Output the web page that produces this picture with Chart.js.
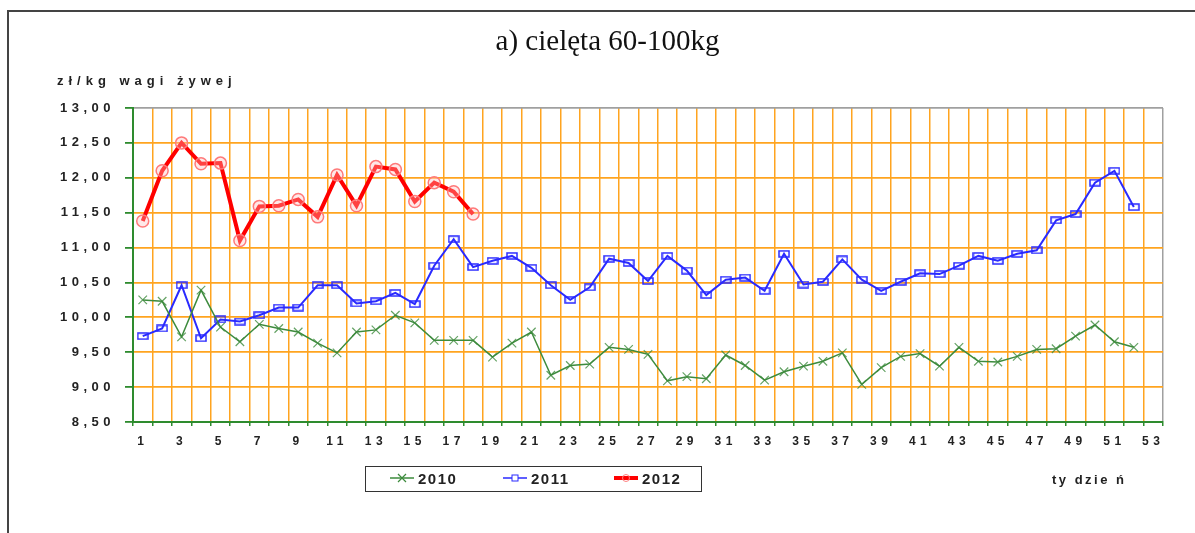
<!DOCTYPE html>
<html>
<head>
<meta charset="utf-8">
<script src="https://cdn.jsdelivr.net/npm/chart.js@4/dist/chart.umd.min.js"></script>
<style>
  body { margin: 0; background: #fff; font-family: "Liberation Sans", Arial, sans-serif; }
  #wrap { position: relative; width: 1195px; height: 533px; overflow: hidden; }
  #frame { position: absolute; left: 7px; top: 10px; right: -10px; bottom: -10px;
    border-left: 2px solid #444; border-top: 2px solid #444; }
  #chart { position: absolute; left: 0; top: 0; }
  #title { position: absolute; left: 0; width: 1215px; top: 24px; text-align: center;
    font-family: "Liberation Serif", "Times New Roman", serif; font-size: 29px; color: #111; }
  #ylabel { position: absolute; left: 57px; top: 73px; font-weight: bold; font-size: 13px;
    letter-spacing: 5px; color: #222; white-space: pre; }
  #xlabel { position: absolute; left: 1052px; top: 472px; font-weight: bold; font-size: 13px;
    letter-spacing: 2.5px; color: #222; }
  #legend { position: absolute; left: 365px; top: 466px; width: 335px; height: 24px;
    border: 1.5px solid #333; }
  .item { display: flex; align-items: center; position: absolute; top: 2px; }
  .item span { font-weight: bold; font-size: 15px; letter-spacing: 1.5px; color: #222; margin-left: 4px; }
</style>
</head>
<body>
<div id="wrap">
  <div id="frame"></div>
  <canvas id="chart" width="1195" height="533"></canvas>
  <div id="title">a) cielęta 60-100kg</div>
  <div id="ylabel">zł/kg wagi żywej</div>
  <div id="xlabel">ty dzie ń</div>
  <div id="legend">
    <div class="item" style="left:24px">
      <svg width="24" height="18"><line x1="0" y1="9" x2="24" y2="9" stroke="#3d8b3d" stroke-width="1.5"/>
        <path d="M8 5 L16 13 M16 5 L8 13" stroke="#3d8b3d" stroke-width="1.2"/></svg>
      <span>2010</span>
    </div>
    <div class="item" style="left:137px">
      <svg width="24" height="18"><line x1="0" y1="9" x2="24" y2="9" stroke="#2a2aff" stroke-width="1.5"/>
        <rect x="9" y="6" width="6" height="6" fill="#fff" stroke="#2a2aff" stroke-width="1"/></svg>
      <span>2011</span>
    </div>
    <div class="item" style="left:248px">
      <svg width="24" height="18"><line x1="0" y1="9" x2="24" y2="9" stroke="#ff0000" stroke-width="4"/>
        <circle cx="12" cy="9" r="3.5" fill="none" stroke="#ff8080" stroke-width="1"/></svg>
      <span>2012</span>
    </div>
  </div>
</div>
<script>
// weeks (tydzień)
const weeks = ["1","2","3","4","5","6","7","8","9","10","11","12","13","14","15","16","17","18",
  "19","20","21","22","23","24","25","26","27","28","29","30","31","32","33","34","35","36",
  "37","38","39","40","41","42","43","44","45","46","47","48","49","50","51","52","53"]

// prices zł/kg
const y2010 = [10.25, 10.23, 9.72, 10.39, 9.86, 9.65, 9.90, 9.84, 9.79, 9.63,
  9.49, 9.79, 9.82, 10.03, 9.92, 9.67, 9.67, 9.67, 9.43, 9.63,
  9.79, 9.17, 9.31, 9.33, 9.57, 9.54, 9.47, 9.09, 9.15, 9.12,
  9.46, 9.31, 9.10, 9.22, 9.30, 9.37, 9.49, 9.04, 9.28, 9.44,
  9.48, 9.30, 9.57, 9.37, 9.36, 9.44, 9.54, 9.55, 9.73, 9.89,
  9.65, 9.57]
const y2011 = [9.73, 9.84, 10.46, 9.70, 9.97, 9.94, 10.03, 10.14, 10.14, 10.46,
  10.46, 10.20, 10.23, 10.35, 10.19, 10.74, 11.12, 10.72, 10.81, 10.88,
  10.71, 10.46, 10.25, 10.43, 10.84, 10.78, 10.52, 10.88, 10.67, 10.32,
  10.54, 10.57, 10.38, 10.91, 10.47, 10.51, 10.83, 10.54, 10.38, 10.51,
  10.63, 10.62, 10.74, 10.88, 10.81, 10.91, 10.96, 11.39, 11.48, 11.93,
  12.10, 11.58]
const y2012 = [11.38, 12.10, 12.50, 12.20, 12.21, 11.10, 11.59, 11.60, 11.69, 11.44,
  12.04, 11.60, 12.16, 12.12, 11.66, 11.93, 11.80, 11.48]

const orange = "#ffa41f"
const green = "#2e8b2e"

// flat rectangle marker for 2011
const rectMarker = document.createElement("canvas")
rectMarker.width = 12
rectMarker.height = 8
const mctx = rectMarker.getContext("2d")
mctx.strokeStyle = "#2a2aff"
mctx.lineWidth = 1.5
mctx.strokeRect(1, 1, 10, 6)

// spaced-out tick lettering like the original
const letterSpacing = {
  id: "letterSpacing",
  beforeUpdate(chart) { chart.ctx.letterSpacing = "4.5px" },
  beforeDraw(chart) { chart.ctx.letterSpacing = "4.5px" },
}

const ctx = document.getElementById("chart").getContext("2d")
new Chart(ctx, {
  type: "line",
  data: {
    labels: weeks,
    datasets: [
      {
        label: "2010",
        data: y2010,
        borderColor: "#3d8b3d",
        borderWidth: 1.5,
        pointStyle: "crossRot",
        pointRadius: 6,
        pointBorderWidth: 1.2,
        pointBorderColor: "rgba(61,139,61,0.8)",
        tension: 0,
      },
      {
        label: "2011",
        data: y2011,
        borderColor: "#2a2aff",
        borderWidth: 2,
        pointStyle: rectMarker,
        tension: 0,
      },
      {
        label: "2012",
        data: y2012,
        borderColor: "#ff0000",
        borderWidth: 4,
        pointStyle: "circle",
        pointRadius: 6,
        pointBorderWidth: 1.5,
        pointBorderColor: "#ff7a7a",
        pointBackgroundColor: "rgba(255,190,190,0.35)",
        tension: 0,
      },
    ],
  },
  options: {
    responsive: false,
    animation: false,
    devicePixelRatio: 1,
    layout: { padding: { top: 108, right: 32, left: 0, bottom: 0 } },
    plugins: { legend: { display: false }, tooltip: { enabled: false } },
    scales: {
      x: {
        offset: true,
        grid: {
          offset: true,
          color: (c) => (c.tick ? orange : "#a0a0a0"),
          lineWidth: 1.5,
          tickColor: green,
          tickLength: 4,
        },
        border: { color: green, width: 2 },
        ticks: {
          autoSkip: false,
          maxRotation: 0,
          padding: 8,
          color: "#222",
          font: { family: "Liberation Sans", size: 12, weight: "bold" },
          callback: function (value, index) {
            return index % 2 === 0 ? this.getLabelForValue(value) : ""
          },
        },
        afterFit(scale) { scale.height = 111 },
      },
      y: {
        min: 8.5,
        max: 13,
        grid: {
          color: (c) => (c.tick && c.tick.value === 13 ? "#a0a0a0" : orange),
          lineWidth: 1.8,
          tickColor: green,
          tickLength: 8,
        },
        border: { color: green, width: 2 },
        ticks: {
          stepSize: 0.5,
          padding: 10,
          color: "#222",
          font: { family: "Liberation Sans", size: 13, weight: "bold" },
          callback: (v) => v.toFixed(2).replace(".", ","),
        },
        afterFit(scale) { scale.width = 133 },
      },
    },
  },
  plugins: [letterSpacing],
})
</script>
</body>
</html>
